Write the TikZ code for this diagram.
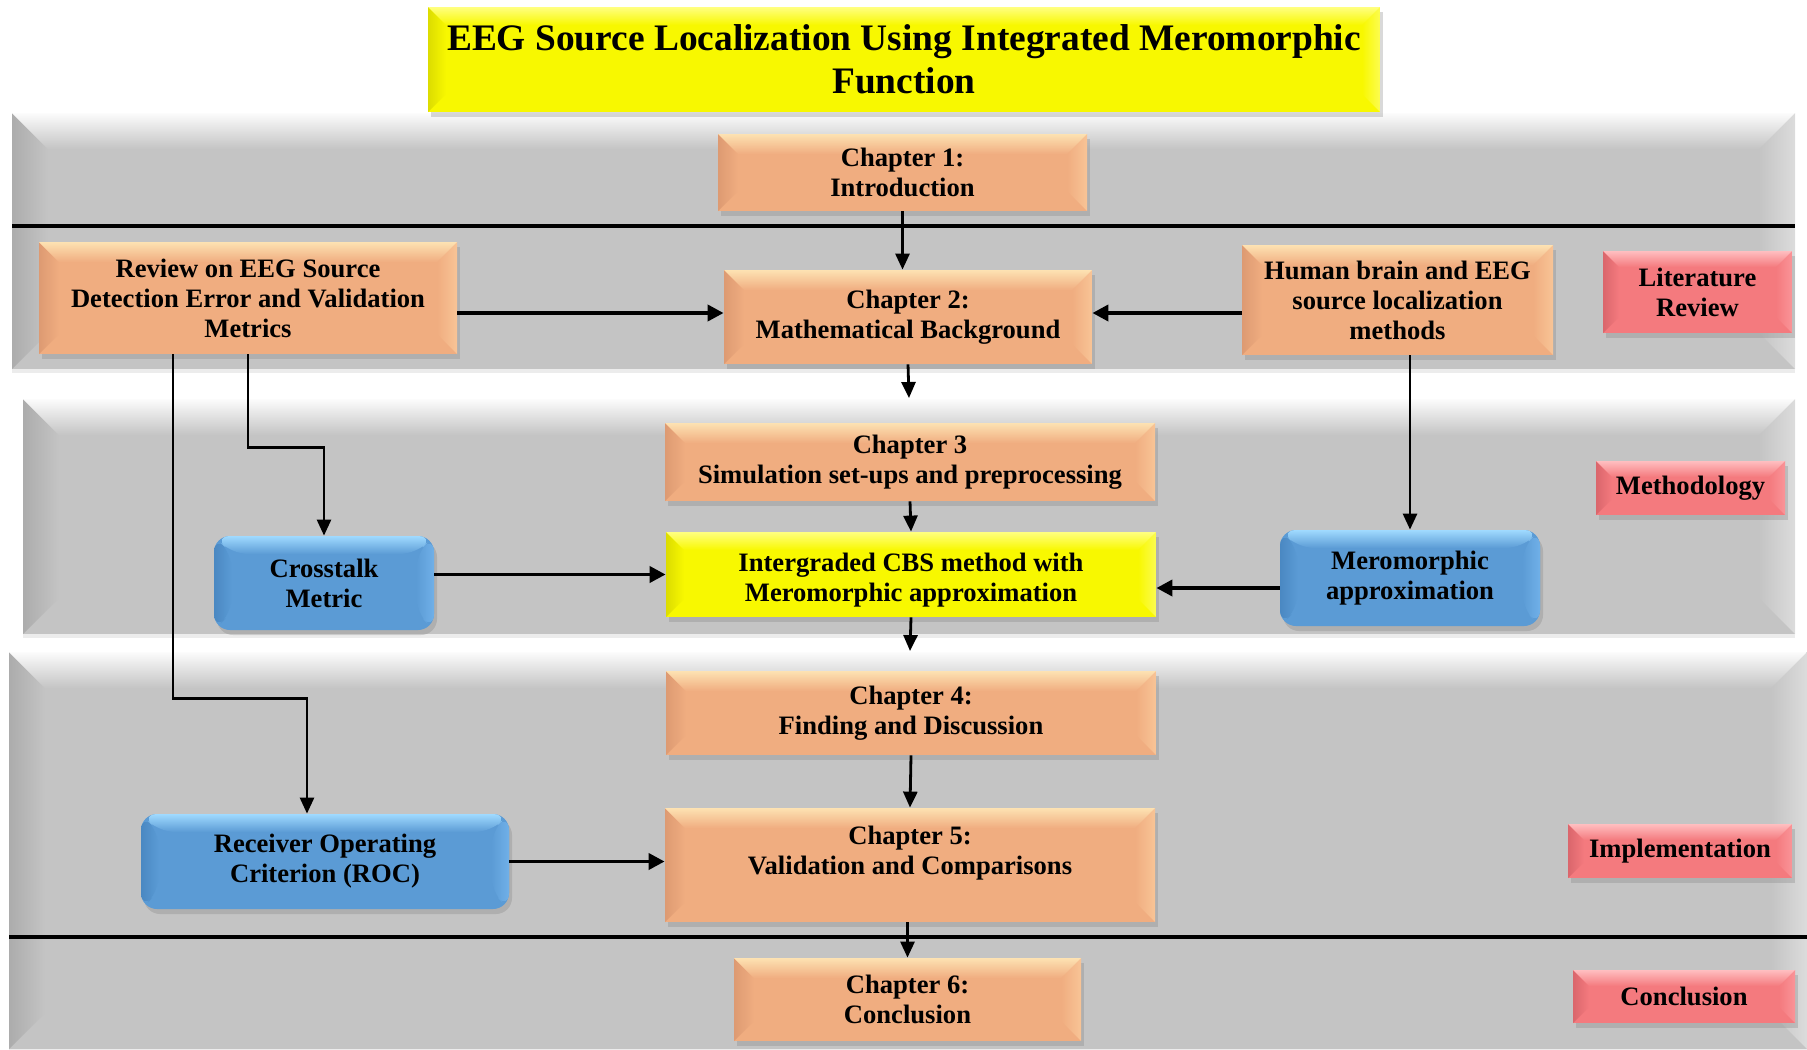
\documentclass[tikz,border=0pt]{standalone}
\usepackage{fontspec}
\setmainfont{Liberation Serif}
\usetikzlibrary{arrows.meta,shadows}

\definecolor{bandbody}{HTML}{C4C4C4}
\definecolor{bandtop}{HTML}{FCFCFC}
\definecolor{bandleft}{HTML}{ACACAC}
\definecolor{bandright}{HTML}{DCDCDC}
\definecolor{chapbody}{HTML}{F0AD80}
\definecolor{chaptop}{HTML}{FDE2B2}
\definecolor{chapleft}{HTML}{DD9A72}
\definecolor{chapright}{HTML}{F8C496}
\definecolor{ylwbody}{HTML}{F8F800}
\definecolor{ylwtop}{HTML}{FFFF80}
\definecolor{ylwleft}{HTML}{DCDC00}
\definecolor{ylwright}{HTML}{FCFC50}
\definecolor{bluebody}{HTML}{5B9BD5}
\definecolor{bluetop}{HTML}{A0DAFF}
\definecolor{blueleft}{HTML}{4A88C2}
\definecolor{blueright}{HTML}{70B0E8}
\definecolor{pinkbody}{HTML}{F47A7E}
\definecolor{pinktop}{HTML}{FFBEC0}
\definecolor{pinkleft}{HTML}{DA666C}
\definecolor{pinkright}{HTML}{FA9498}

\newcommand{\bevelfaces}[5]{%
  \path (path picture bounding box.north west) coordinate (bvA)
        (path picture bounding box.north east) coordinate (bvB)
        (path picture bounding box.south east) coordinate (bvC)
        (path picture bounding box.south west) coordinate (bvD);
  \shade[left color=#4, right color=#2] (bvA) -- ([shift={(#1,-#1)}]bvA) -- ([shift={(#1,#1)}]bvD) -- (bvD) -- cycle;
  \shade[left color=#2, right color=#5] (bvB) -- ([shift={(-#1,-#1)}]bvB) -- ([shift={(-#1,#1)}]bvC) -- (bvC) -- cycle;
  \shade[top color=#3, bottom color=#2] (bvA) -- (bvB) -- ([shift={(-#1,-#1)}]bvB) -- ([shift={(#1,-#1)}]bvA) -- cycle;
}

\tikzset{
  band/.style={fill=bandbody, drop shadow={shadow xshift=0pt, shadow yshift=-2pt, opacity=.15},
    path picture={\bevelfaces{18pt}{bandbody}{bandtop}{bandleft}{bandright}}},
  sepline/.style={line width=2pt},
  boxtext/.style={align=center, font=\fontsize{13.3}{15}\selectfont\bfseries, inner sep=2pt},
  chapbox/.style={boxtext, fill=chapbody, drop shadow={shadow xshift=1.5pt, shadow yshift=-2.5pt, opacity=.3},
    path picture={\bevelfaces{10pt}{chapbody}{chaptop}{chapleft}{chapright}}},
  ylwbox/.style={boxtext, fill=ylwbody, drop shadow={shadow xshift=1.5pt, shadow yshift=-2.5pt, opacity=.3},
    path picture={\bevelfaces{9pt}{ylwbody}{ylwtop}{ylwleft}{ylwright}}},
  bluebox/.style={boxtext, fill=bluebody, rounded corners=8pt, drop shadow={shadow xshift=1.5pt, shadow yshift=-2.5pt, opacity=.3},
    path picture={\bevelfaces{9pt}{bluebody}{bluetop}{blueleft}{blueright}}},
  pinkbox/.style={boxtext, fill=pinkbody, drop shadow={shadow xshift=1.5pt, shadow yshift=-2.5pt, opacity=.3},
    path picture={\bevelfaces{8pt}{pinkbody}{pinktop}{pinkleft}{pinkright}}},
  arr/.style={line width=1.4pt, -{Triangle[length=8pt,width=7pt]}},
  harr/.style={line width=1.9pt, -{Triangle[length=8pt,width=8pt]}},
  elb/.style={line width=1.3pt, -{Triangle[length=8pt,width=7pt]}}
}

\begin{document}
\begin{tikzpicture}[x=0.5pt,y=-0.5pt]
\useasboundingbox (0,0) rectangle (1807,1049);

\path[band] (12,113) rectangle (1795,369);
\path[band] (23,399) rectangle (1795,634);
\path[band] (9,652) rectangle (1807,1049);
\draw[sepline] (12,226) -- (1795,226);
\draw[sepline] (9,937) -- (1807,937);

\node[ylwbox, minimum width=476pt, minimum height=52.5pt, font=\fontsize{18.7}{21.5}\selectfont\bfseries] (title) at (904,59.5)
  {EEG Source Localization Using Integrated Meromorphic\\Function};

\node[chapbox, minimum width=184.5pt, minimum height=38.5pt] (ch1) at (902.5,172.5) {Chapter 1:\\Introduction};
\node[chapbox, minimum width=209pt, minimum height=56pt] (review) at (248,298)
  {Review on EEG Source\\Detection Error and Validation\\Metrics};
\node[chapbox, minimum width=184pt, minimum height=47pt] (ch2) at (908,317) {Chapter 2:\\Mathematical Background};
\node[chapbox, minimum width=155.5pt, minimum height=55pt] (brain) at (1397.5,300)
  {Human brain and EEG\\source localization\\methods};
\node[pinkbox, minimum width=94.5pt, minimum height=41pt] (litrev) at (1697.5,292) {Literature\\Review};

\node[chapbox, minimum width=245pt, minimum height=39pt] (ch3) at (910,462) {Chapter 3\\Simulation set-ups and preprocessing};
\node[bluebox, minimum width=110pt, minimum height=47pt] (cross) at (324,583) {Crosstalk\\Metric};
\node[ylwbox, minimum width=245pt, minimum height=42.5pt, text height=30pt] (cbs) at (911,574.5)
  {Intergraded CBS method with\\Meromorphic approximation};
\node[bluebox, minimum width=130pt, minimum height=48pt] (mero) at (1410,578) {Meromorphic\\approximation};
\node[pinkbox, minimum width=94.5pt, minimum height=27pt] (method) at (1690.5,488) {Methodology};

\node[chapbox, minimum width=245pt, minimum height=42pt] (ch4) at (911,713) {Chapter 4:\\Finding and Discussion};
\node[chapbox, minimum width=245pt, minimum height=57pt] (ch5) at (910,865) {Chapter 5:\\Validation and Comparisons\\\mbox{}};
\node[bluebox, minimum width=184pt, minimum height=47.5pt] (roc) at (325,861.5) {Receiver Operating\\Criterion (ROC)};
\node[pinkbox, minimum width=112pt, minimum height=27pt] (impl) at (1680,851) {Implementation};
\node[chapbox, minimum width=173.5pt, minimum height=41.5pt] (ch6) at (907.5,999.5) {Chapter 6:\\Conclusion};
\node[pinkbox, minimum width=111pt, minimum height=26.5pt] (concl) at (1684,996.5) {Conclusion};

\coordinate (b2top) at (909,398);
\coordinate (b3top) at (910,651);

\draw[arr] (ch1.south) -- (ch1.south |- ch2.north);
\draw[harr] ([yshift=2pt]review.east |- ch2) -- ([yshift=2pt]ch2.west);
\draw[harr] ([yshift=2pt]brain.west |- ch2) -- ([yshift=2pt]ch2.east);
\draw[arr] (ch2.south) -- (b2top);
\draw[arr] (ch3.south) -- (cbs.north);
\draw[arr] (cbs.south) -- (b3top);
\draw[arr] (ch4.south) -- (ch5.north);
\draw[arr] (ch5.south -| ch6) -- (ch6.north);
\draw[elb] (review.south) -- ++(0,93) -| (cross.north);
\draw[elb] ([xshift=-37.5pt]review.south) -- ++(0,344) -| ([xshift=-9pt]roc.north);
\draw[harr] (cross.east |- cbs) -- (cbs.west);
\draw[harr] ([yshift=-5pt]mero.west) -- ([yshift=-5pt]mero.west -| cbs.east);
\draw[arr] (mero.north |- brain.south) -- (mero.north);
\draw[harr] (roc.east) -- (roc.east -| ch5.west);
\end{tikzpicture}
\end{document}
